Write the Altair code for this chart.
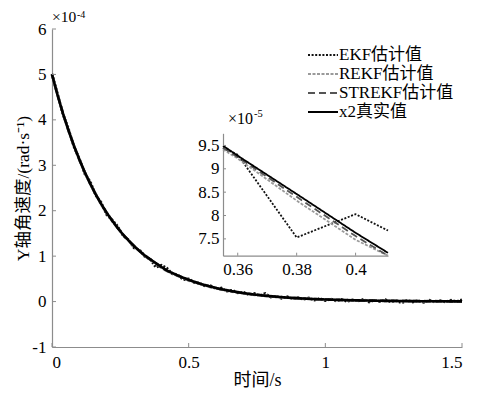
import altair as alt
import numpy as np
import pandas as pd

FONT = "Liberation Serif, Noto Sans CJK SC, serif"

# ---------------- data (values in units of 1e-4 rad/s) ----------------
series_names = ["EKF估计值", "REKF估计值", "STREKF估计值", "x2真实值"]
series_colors = ["#111111", "#9a9a9a", "#555555", "#000000"]
series_dashes = [[2, 1.6], [3, 1.5], [7, 4], [1, 0]]

time_s = np.round(np.arange(0, 1.5001, 0.02), 2)

truth = [
    5.000, 4.552, 4.144, 3.773, 3.435, 3.127, 2.847, 2.592, 2.360, 2.148,
    1.956, 1.781, 1.621, 1.476, 1.344, 1.223, 1.114, 1.014, 0.928, 0.846,
    0.763, 0.685, 0.630, 0.575, 0.525, 0.479, 0.436, 0.397, 0.361, 0.329,
    0.299, 0.272, 0.248, 0.226, 0.206, 0.187, 0.170, 0.155, 0.141, 0.129,
    0.117, 0.107, 0.097, 0.088, 0.080, 0.073, 0.067, 0.061, 0.055, 0.050,
    0.046, 0.042, 0.038, 0.035, 0.031, 0.029, 0.026, 0.024, 0.022, 0.020,
    0.018, 0.016, 0.015, 0.014, 0.012, 0.011, 0.010, 0.009, 0.008, 0.008,
    0.007, 0.006, 0.006, 0.005, 0.005, 0.004,
]
ekf = [
    5.01, 4.58, 4.12, 3.81, 3.41, 3.15, 2.81, 2.64, 2.34, 2.18,
    1.91, 1.80, 1.66, 1.45, 1.36, 1.18, 1.14, 0.990, 0.930, 0.753,
    0.803, 0.739, 0.610, 0.590, 0.480, 0.500, 0.420, 0.410, 0.340, 0.350,
    0.280, 0.300, 0.230, 0.250, 0.190, 0.210, 0.150, 0.180, 0.130, 0.180,
    0.100, 0.120, 0.070, 0.110, 0.060, 0.090, 0.050, 0.080, 0.030, 0.070,
    0.020, 0.060, 0.010, 0.050, 0.000, 0.040, 0.010, 0.050, -0.010, 0.030,
    0.000, 0.040, -0.010, 0.020, -0.030, 0.030, -0.010, 0.020, -0.020, 0.030,
    -0.010, 0.020, -0.010, 0.030, 0.000, 0.040,
]
rekf = [
    4.99, 4.55, 4.15, 3.76, 3.44, 3.11, 2.85, 2.58, 2.37, 2.13,
    1.96, 1.77, 1.63, 1.46, 1.35, 1.21, 1.12, 1.000, 0.922, 0.832,
    0.748, 0.672, 0.625, 0.560, 0.530, 0.460, 0.440, 0.385, 0.370, 0.315,
    0.305, 0.260, 0.255, 0.215, 0.210, 0.175, 0.175, 0.145, 0.145, 0.135,
    0.110, 0.110, 0.090, 0.092, 0.072, 0.078, 0.060, 0.065, 0.048, 0.055,
    0.040, 0.045, 0.032, 0.040, 0.025, 0.033, 0.020, 0.028, 0.016, 0.024,
    0.012, 0.020, 0.010, 0.018, 0.006, 0.014, 0.004, 0.012, 0.003, 0.012,
    0.002, 0.010, 0.002, 0.009, 0.001, 0.008,
]
strekf = [
    5.00, 4.56, 4.14, 3.78, 3.43, 3.13, 2.84, 2.60, 2.35, 2.15,
    1.95, 1.79, 1.62, 1.48, 1.34, 1.23, 1.11, 1.005, 0.925, 0.840,
    0.756, 0.678, 0.632, 0.572, 0.528, 0.474, 0.438, 0.393, 0.364, 0.325,
    0.301, 0.268, 0.250, 0.222, 0.208, 0.183, 0.172, 0.151, 0.143, 0.126,
    0.119, 0.104, 0.099, 0.085, 0.082, 0.070, 0.069, 0.058, 0.057, 0.047,
    0.048, 0.039, 0.040, 0.032, 0.033, 0.026, 0.028, 0.021, 0.024, 0.017,
    0.020, 0.013, 0.017, 0.011, 0.015, 0.009, 0.013, 0.007, 0.011, 0.006,
    0.010, 0.005, 0.008, 0.004, 0.007, 0.004,
]

main_x_ticks = [0, 0.5, 1, 1.5]
main_y_ticks = [-1, 0, 1, 2, 3, 4, 5, 6]
inset_x_ticks = [0.36, 0.38, 0.40]
inset_y_ticks = [7.5, 8, 8.5, 9, 9.5]
inset_x_domain = [0.355, 0.411]
inset_y_domain = [7.14, 9.76]

# ---------------- tables ----------------
all_series = [ekf, rekf, strekf, truth]
rows = []
inset_rows = []
for name, vals in zip(series_names, all_series):
    assert len(vals) == len(time_s)
    for t, v in zip(time_s, vals):
        rows.append({"t": float(t), "v": v, "series": name})
    for t, v in zip(time_s, vals):
        if inset_x_domain[0] < t < inset_x_domain[1]:
            inset_rows.append({"t": float(t), "v": v * 10, "series": name})
    for edge in inset_x_domain:
        inset_rows.append({"t": edge, "v": float(np.interp(edge, time_s, vals)) * 10, "series": name})
df = pd.DataFrame(rows)
df_inset = pd.DataFrame(inset_rows)
df_legend = pd.DataFrame({"series": series_names})

W, H = 410, 318
IN_X_RANGE = [171, 336]
IN_Y_RANGE = [226.7, 104.3]

color_scale = alt.Scale(domain=series_names, range=series_colors)
dash_scale = alt.Scale(domain=series_names, range=series_dashes)
minus_fix = "replace(datum.label, '\u2212', '-')"

axis_common = dict(
    ticks=False, grid=False, domainColor="#8c8c8c", domainWidth=1.2,
    labelFont=FONT, labelColor="black",
)

# ---------------- main plot ----------------
main_lines = alt.Chart(df).mark_line(strokeWidth=2.6).encode(
    x=alt.X("t:Q", scale=alt.Scale(domain=[0, 1.5], nice=False),
            axis=alt.Axis(values=main_x_ticks, format="~g", labelFontSize=17, labelPadding=7,
                          title="时间/s", titleFont=FONT, titleFontSize=18, titleFontWeight="normal",
                          titleColor="black", titleX=W / 2, titleY=33, titleBaseline="middle",
                          **axis_common)),
    y=alt.Y("v:Q", scale=alt.Scale(domain=[-1, 6], nice=False),
            axis=alt.Axis(values=main_y_ticks, format="d", labelExpr=minus_fix, labelFontSize=17,
                          labelPadding=6, title="Y轴角速度/(rad·s⁻¹)", titleFont=FONT, titleFontSize=17.5,
                          titleFontWeight="normal", titleColor="black", titleX=-29, titleY=H / 2,
                          titleBaseline="middle", titleAngle=-90, **axis_common)),
    color=alt.Color("series:N", scale=color_scale, legend=None),
    strokeDash=alt.StrokeDash("series:N", scale=dash_scale, legend=None),
)
main_xt = alt.Chart(pd.DataFrame({"t": main_x_ticks})).mark_rule(color="#8c8c8c").encode(
    x=alt.X("t:Q", scale=alt.Scale(domain=[0, 1.5], nice=False)),
    y=alt.value(H), y2=alt.value(H - 4))
main_yt = alt.Chart(pd.DataFrame({"v": main_y_ticks})).mark_rule(color="#8c8c8c").encode(
    y=alt.Y("v:Q", scale=alt.Scale(domain=[-1, 6], nice=False)),
    x=alt.value(0), x2=alt.value(4))
main = alt.layer(main_lines, main_xt, main_yt)

# ---------------- inset ----------------
in_x_scale = alt.Scale(domain=inset_x_domain, range=IN_X_RANGE, nice=False, zero=False)
in_y_scale = alt.Scale(domain=inset_y_domain, range=IN_Y_RANGE, nice=False, zero=False, clamp=True)
inset_lines = alt.Chart(df_inset).mark_line(strokeWidth=1.8).encode(
    x=alt.X("t:Q", scale=in_x_scale,
            axis=alt.Axis(orient="bottom", offset=-(H - IN_Y_RANGE[0]), values=inset_x_ticks,
                          format="~g", labelFontSize=17, labelPadding=6, title=None, **axis_common)),
    y=alt.Y("v:Q", scale=in_y_scale,
            axis=alt.Axis(orient="left", offset=-IN_X_RANGE[0], values=inset_y_ticks,
                          format="~g", labelFontSize=17, labelPadding=4, title=None, **axis_common)),
    color=alt.Color("series:N", scale=color_scale, legend=None),
    strokeDash=alt.StrokeDash("series:N", scale=dash_scale, legend=None),
)
inset_xt = alt.Chart(pd.DataFrame({"t": inset_x_ticks})).mark_rule(color="#8c8c8c").encode(
    x=alt.X("t:Q", scale=in_x_scale), y=alt.value(IN_Y_RANGE[0]), y2=alt.value(IN_Y_RANGE[0] - 3))
inset_yt = alt.Chart(pd.DataFrame({"v": inset_y_ticks})).mark_rule(color="#8c8c8c").encode(
    y=alt.Y("v:Q", scale=in_y_scale), x=alt.value(IN_X_RANGE[0]), x2=alt.value(IN_X_RANGE[0] + 3))
inset = alt.layer(inset_lines, inset_xt, inset_yt)

# ---------------- legend ----------------
leg_y = alt.Y("series:N", scale=alt.Scale(type="point", domain=series_names, range=[26, 83], padding=0),
              axis=None)
leg_rules = alt.Chart(df_legend).mark_rule(strokeWidth=2).encode(
    x=alt.value(256), x2=alt.value(286), y=leg_y,
    color=alt.Color("series:N", scale=color_scale, legend=None),
    strokeDash=alt.StrokeDash("series:N", scale=dash_scale, legend=None),
)
leg_text = alt.Chart(df_legend).mark_text(align="left", baseline="middle", font=FONT, fontSize=17,
                                          color="black").encode(
    x=alt.value(287), y=leg_y, text="series:N")
legend = alt.layer(leg_rules, leg_text)

# ---------------- exponent annotations ----------------
def note(txt, x, y, size):
    return alt.Chart(df_legend.head(1)).mark_text(
        align="left", baseline="alphabetic", font=FONT, fontSize=size,
        fontWeight="normal", color="black"
    ).encode(x=alt.value(x), y=alt.value(y), text=alt.value(txt))

notes = [
    note("×10", 0, -7, 15.5), note("-4", 25, -11, 10),
    note("×10", 176, 95, 16), note("-5", 202, 88, 10.5),
]

chart = alt.layer(main, inset, legend, *notes).resolve_scale(
    x="independent", y="independent"
).properties(
    width=W, height=H,
    autosize=alt.AutoSizeParams(type="none"),
    padding={"left": 44, "top": 21, "right": 8, "bottom": 42},
    background="white",
).configure_view(stroke=None)

chart.save("out.html", embed_options={"renderer": "svg", "actions": False})
